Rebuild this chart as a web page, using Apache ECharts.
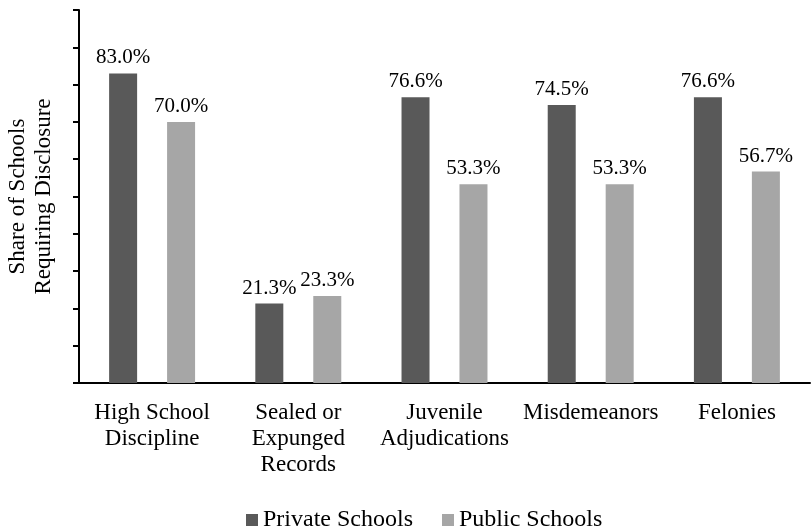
<!doctype html>
<html>
<head>
<meta charset="utf-8">
<title>Disclosure chart</title>
<script src="https://cdn.jsdelivr.net/npm/echarts@6/dist/echarts.min.js"></script>
<style>
  html, body { margin: 0; padding: 0; background: #fff; }
  #main { width: 811px; height: 531px; }
</style>
</head>
<body>
<div id="main"></div>
<script>
// categories and values
var categories = ['High School\nDiscipline', 'Sealed or\nExpunged\nRecords', 'Juvenile\nAdjudications', 'Misdemeanors', 'Felonies'];
var privateSchools = [83.0, 21.3, 76.6, 74.5, 76.6];
var publicSchools = [70.0, 23.3, 53.3, 53.3, 56.7];

var serif = '"Liberation Serif", "Times New Roman", serif';
var myChart = echarts.init(document.getElementById('main'));

var labelStyle = {
    show: true,
    position: 'top',
    distance: 5,
    fontFamily: serif,
    fontSize: 21,
    color: '#000',
    formatter: function (p) { return p.value.toFixed(1) + '%'; }
};

var option = {
    animation: false,
    textStyle: { fontFamily: serif },
    grid: { left: 79, right: 1, top: 10, bottom: 148, outerBoundsMode: 'none' },
    legend: {
        top: 503,
        left: 241,
        itemWidth: 12,
        itemHeight: 12,
        itemGap: 29,
        icon: 'rect',
        textStyle: { fontFamily: serif, fontSize: 24, color: '#000', padding: 0 },
        data: ['Private Schools', 'Public Schools']
    },
    xAxis: {
        type: 'category',
        data: categories,
        axisTick: { show: false },
        axisLine: { lineStyle: { color: '#000', width: 2 } },
        axisLabel: {
            interval: 0,
            margin: 17,
            fontFamily: serif,
            fontSize: 23,
            lineHeight: 26,
            color: '#000'
        }
    },
    yAxis: {
        type: 'value',
        min: 0,
        max: 100,
        interval: 10,
        name: 'Share of Schools\nRequiring Disclosure',
        nameLocation: 'middle',
        nameRotate: 90,
        nameGap: 22,
        nameTextStyle: { fontFamily: serif, fontSize: 23, lineHeight: 26, color: '#000' },
        axisLine: { show: true, lineStyle: { color: '#000', width: 2 } },
        axisTick: { show: true, inside: false, length: 6, lineStyle: { color: '#000', width: 2 } },
        axisLabel: { show: false },
        splitLine: { show: false }
    },
    series: [
        {
            name: 'Private Schools',
            type: 'bar',
            data: privateSchools,
            barWidth: 28,
            barGap: '107%',
            itemStyle: { color: '#595959' },
            label: labelStyle
        },
        {
            name: 'Public Schools',
            type: 'bar',
            data: publicSchools,
            barWidth: 28,
            itemStyle: { color: '#a6a6a6' },
            label: labelStyle
        }
    ]
};

myChart.setOption(option);
</script>
</body>
</html>
